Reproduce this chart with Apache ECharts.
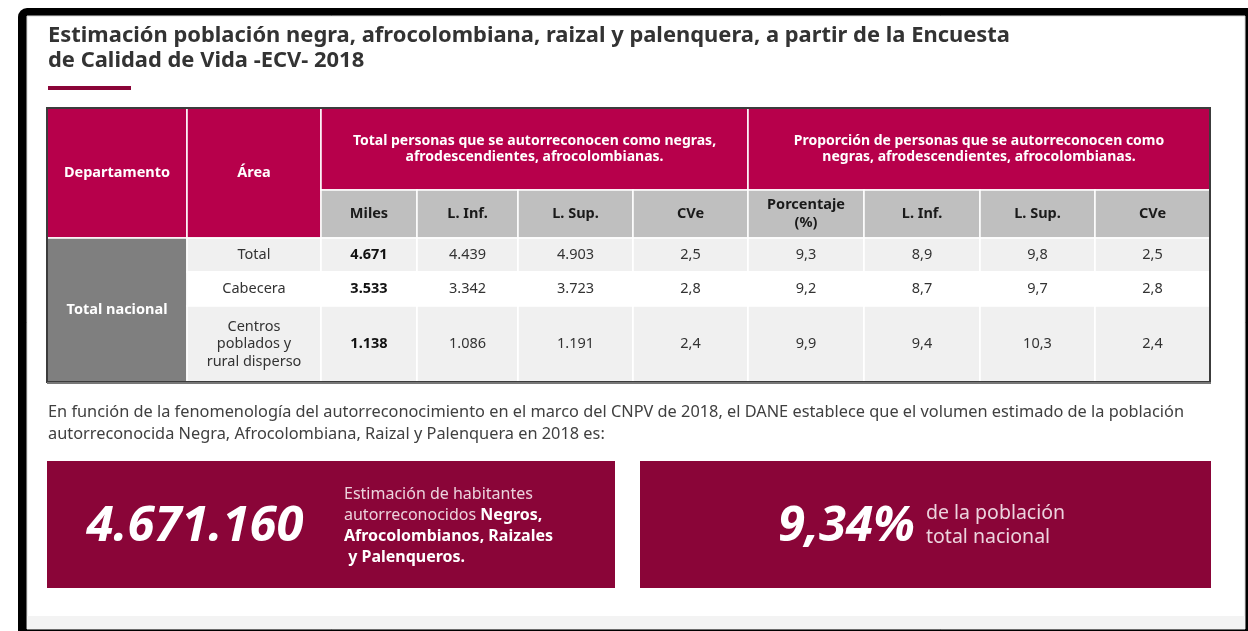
<!DOCTYPE html>
<html>
<head>
<meta charset="utf-8">
<script src="https://cdn.jsdelivr.net/npm/echarts@6/dist/echarts.min.js"></script>
<style>
html,body{margin:0;padding:0;background:#fff;}
#chart{width:1248px;height:631px;}
</style>
</head>
<body>
<div id="chart"></div>
<script>
// ---------- DATA ----------
const titleLines = ['Estimación población negra, afrocolombiana, raizal y palenquera, a partir de la Encuesta', 'de Calidad de Vida -ECV- 2018'];
const rowHeaderLabels = ['Departamento', 'Área'];
const groupHeaders = ['Total personas que se autorreconocen como negras,\nafrodescendientes, afrocolombianas.', 'Proporción de personas que se autorreconocen como\nnegras, afrodescendientes, afrocolombianas.'];
const subHeaders = ['Miles', 'L. Inf.', 'L. Sup.', 'CVe', 'Porcentaje\n(%)', 'L. Inf.', 'L. Sup.', 'CVe'];
const departamento = 'Total nacional';
const areas = ['Total', 'Cabecera', 'Centros\npoblados y\nrural disperso'];
const miles = [4671, 3533, 1138];
const milesInf = [4439, 3342, 1086];
const milesSup = [4903, 3723, 1191];
const milesCVe = [2.5, 2.8, 2.4];
const porcentaje = [9.3, 9.2, 9.9];
const porcentajeInf = [8.9, 8.7, 9.4];
const porcentajeSup = [9.8, 9.7, 10.3];
const porcentajeCVe = [2.5, 2.8, 2.4];
const paragraphLines = ['En función de la fenomenología del autorreconocimiento en el marco del CNPV de 2018, el DANE establece que el volumen estimado de la población', 'autorreconocida Negra, Afrocolombiana, Raizal y Palenquera en 2018 es:'];
const totalHabitantes = 4671160;
const porcentajeNacional = 9.34;

// ---------- FORMAT ----------
function fmtInt(v) { return String(v).replace(/\B(?=(\d{3})+(?!\d))/g, '.'); }
function fmtDec(v, d) { return v.toFixed(d).replace('.', ','); }

// ---------- LAYOUT ----------
const TBL = { left: 47, top: 108, width: 1163, height: 274 };
const colEdges = [0, 140, 274, 370, 471, 586, 701, 817, 933, 1048, 1163];
const rowEdges = [0, 82, 130, 164, 198, 274];
const FONT = '"Noto Sans", "Open Sans", sans-serif';
const MAROON = '#b7004b';
const DARKMAROON = '#8a0538';

function measure(text, font) {
  const ctx = document.createElement('canvas').getContext('2d');
  ctx.font = font;
  return ctx.measureText(text).width;
}
const titleFont = 'bold 21px "Noto Sans"';
const titleScale = 962 / measure(titleLines[0], titleFont);
const paraFont = '16px "Noto Sans"';
const paraScale = 1136 / measure(paragraphLines[0], paraFont);

// ---------- CELLS ----------
const cells = [];
function cell(c0, c1, r0, r1, text, fill, color, weight, size, lh) {
  cells.push({ x0: colEdges[c0], x1: colEdges[c1], y0: rowEdges[r0], y1: rowEdges[r1], text, fill, color, weight, size, lh: lh || Math.round(size * 1.3) });
}
cell(0, 1, 0, 2, rowHeaderLabels[0], MAROON, '#fff', 'bold', 14.5);
cell(1, 2, 0, 2, rowHeaderLabels[1], MAROON, '#fff', 'bold', 14.5);
cell(2, 6, 0, 1, groupHeaders[0], MAROON, '#fff', 'bold', 14, 16);
cell(6, 10, 0, 1, groupHeaders[1], MAROON, '#fff', 'bold', 14, 16);
subHeaders.forEach((s, i) => cell(2 + i, 3 + i, 1, 2, s, '#bfbfbf', '#1a1a1a', 'bold', 14.5, 18));
cell(0, 1, 2, 5, departamento, '#7f7f7f', '#fff', 'bold', 14.5);
const bodyCols = [
  [miles.map(fmtInt), 'bold'],
  [milesInf.map(fmtInt), 'normal'],
  [milesSup.map(fmtInt), 'normal'],
  [milesCVe.map(v => fmtDec(v, 1)), 'normal'],
  [porcentaje.map(v => fmtDec(v, 1)), 'normal'],
  [porcentajeInf.map(v => fmtDec(v, 1)), 'normal'],
  [porcentajeSup.map(v => fmtDec(v, 1)), 'normal'],
  [porcentajeCVe.map(v => fmtDec(v, 1)), 'normal']
];
const rowFills = ['#f0f0f0', '#ffffff', '#f0f0f0'];
areas.forEach((a, r) => {
  cell(1, 2, 2 + r, 3 + r, a, rowFills[r], '#333', 'normal', 14.5, 17.5);
  bodyCols.forEach((bc, j) => {
    cell(2 + j, 3 + j, 2 + r, 3 + r, bc[0][r], rowFills[r], bc[1] === 'bold' ? '#111' : '#333', bc[1], 14.5);
  });
});

const chart = echarts.init(document.getElementById('chart'), null, { renderer: 'canvas' });

const option = {
  backgroundColor: '#fff',
  animation: false,
  grid: { left: TBL.left, top: TBL.top, width: TBL.width, height: TBL.height },
  xAxis: { type: 'value', min: 0, max: TBL.width, show: false },
  yAxis: { type: 'value', min: 0, max: TBL.height, inverse: true, show: false },
  series: [{
    type: 'custom',
    coordinateSystem: 'cartesian2d',
    encode: { x: [0, 2], y: [1, 3] },
    data: cells.map(c => [c.x0, c.y0, c.x1, c.y1]),
    renderItem: function (params, api) {
      const c = cells[params.dataIndex];
      const p0 = api.coord([api.value(0), api.value(1)]);
      const p1 = api.coord([api.value(2), api.value(3)]);
      return {
        type: 'group',
        children: [{
          type: 'rect',
          shape: { x: p0[0], y: p0[1], width: p1[0] - p0[0], height: p1[1] - p0[1] },
          style: { fill: c.fill, stroke: '#ffffff', lineWidth: 1.5 }
        }, {
          type: 'text',
          style: {
            text: c.text,
            x: (p0[0] + p1[0]) / 2,
            y: (p0[1] + p1[1]) / 2,
            align: 'center',
            verticalAlign: 'middle',
            fill: c.color,
            fontFamily: FONT,
            fontWeight: c.weight,
            fontSize: c.size,
            lineHeight: c.lh
          }
        }]
      };
    }
  }],
  graphic: [
    // outer frame
    { type: 'rect', z: -10, shape: { x: 18, y: 8, width: 1240, height: 640, r: [9, 0, 0, 0] }, style: { fill: '#000' } },
    { type: 'rect', z: -9, shape: { x: 27, y: 16, width: 1218, height: 613 }, style: { fill: '#ffffff', stroke: '#d8d8d8', lineWidth: 1 } },
    { type: 'rect', z: -8, shape: { x: 27, y: 616, width: 1218, height: 13 }, style: { fill: '#f3f3f3' } },
    // title
    { type: 'text', z: 5, x: 48, y: 36, scaleX: titleScale, style: { text: titleLines[0], x: 0, y: 0, verticalAlign: 'middle', fill: '#333', fontFamily: FONT, fontWeight: 'bold', fontSize: 21 } },
    { type: 'text', z: 5, x: 48, y: 61, scaleX: titleScale, style: { text: titleLines[1], x: 0, y: 0, verticalAlign: 'middle', fill: '#333', fontFamily: FONT, fontWeight: 'bold', fontSize: 21 } },
    { type: 'rect', z: 5, shape: { x: 48, y: 86, width: 83, height: 4 }, style: { fill: DARKMAROON } },
    // table border
    { type: 'rect', z: 20, shape: { x: TBL.left, y: TBL.top, width: TBL.width, height: TBL.height }, style: { fill: null, stroke: '#3c3c3c', lineWidth: 2 } },
    { type: 'rect', z: 20, shape: { x: TBL.left, y: TBL.top + TBL.height, width: TBL.width + 1, height: 2 }, style: { fill: '#777' } },
    // paragraph
    { type: 'text', z: 5, x: 48, y: 412, scaleX: paraScale, style: { text: paragraphLines[0], x: 0, y: 0, verticalAlign: 'middle', fill: '#404040', fontFamily: FONT, fontSize: 16 } },
    { type: 'text', z: 5, x: 48, y: 434, scaleX: paraScale, style: { text: paragraphLines[1], x: 0, y: 0, verticalAlign: 'middle', fill: '#404040', fontFamily: FONT, fontSize: 16 } },
    // boxes
    { type: 'rect', z: 5, shape: { x: 47, y: 461, width: 568, height: 127 }, style: { fill: DARKMAROON } },
    { type: 'rect', z: 5, shape: { x: 640, y: 461, width: 571, height: 127 }, style: { fill: DARKMAROON } },
    { type: 'text', z: 6, style: { text: fmtInt(totalHabitantes), x: 195, y: 527, align: 'center', verticalAlign: 'middle', fill: '#fff', fontFamily: FONT, fontWeight: 'bold', fontStyle: 'italic', fontSize: 49 } },
    { type: 'text', z: 6, style: {
        text: '{r|Estimación de habitantes}\n{r|autorreconocidos }{b|Negros,}\n{b|Afrocolombianos, Raizales}\n{b| y Palenqueros.}',
        x: 344, y: 526, verticalAlign: 'middle', fontFamily: FONT, lineHeight: 21,
        rich: {
          r: { fill: '#ecd3dd', fontFamily: FONT, fontSize: 16, lineHeight: 21 },
          b: { fill: '#ffffff', fontFamily: FONT, fontSize: 16, fontWeight: 'bold', lineHeight: 21 }
        } } },
    { type: 'text', z: 6, style: { text: fmtDec(porcentajeNacional, 2) + '%', x: 915, y: 527, align: 'right', verticalAlign: 'middle', fill: '#fff', fontFamily: FONT, fontWeight: 'bold', fontStyle: 'italic', fontSize: 49 } },
    { type: 'text', z: 6, style: { text: 'de la población\ntotal nacional', x: 926, y: 525, verticalAlign: 'middle', fill: '#ecd3dd', fontFamily: FONT, fontSize: 19.5, lineHeight: 24 } }
  ]
};
chart.setOption(option);
</script>
</body>
</html>
